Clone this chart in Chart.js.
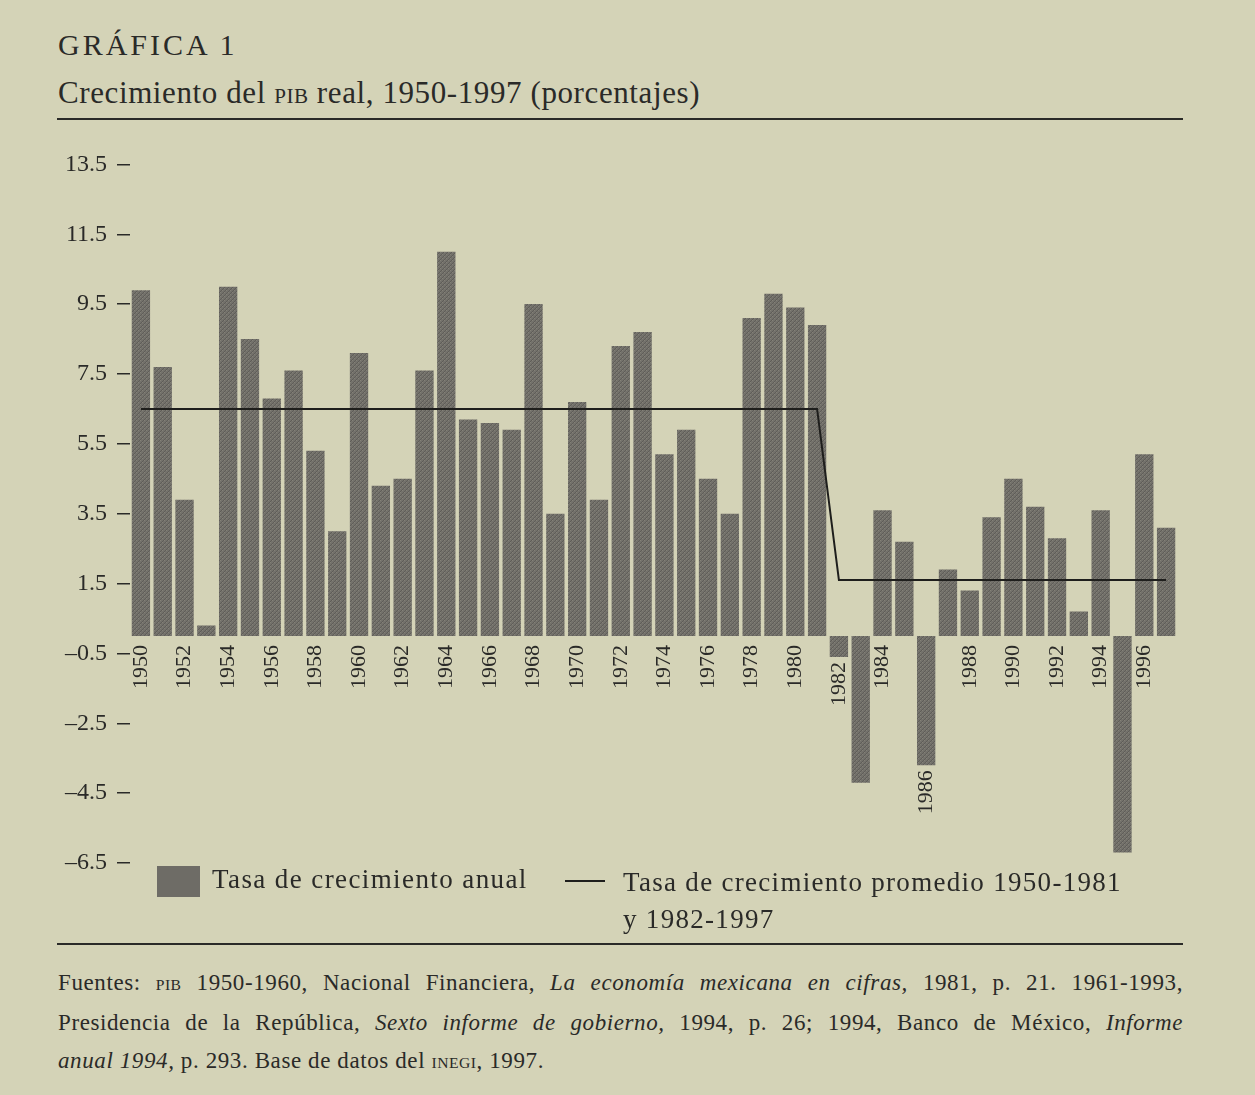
<!DOCTYPE html>
<html lang="es">
<head>
<meta charset="utf-8">
<script src="https://cdn.jsdelivr.net/npm/chart.js@4.4.1/dist/chart.umd.min.js"></script>
<style>
  html, body { margin:0; padding:0; }
  body { width:1255px; height:1095px; background:#d4d3b7; position:relative; overflow:hidden;
         font-family:"Liberation Serif", "DejaVu Serif", serif; color:#2a2a28; }
  .abs { position:absolute; white-space:nowrap; }
  #title { left:58px; top:28px; font-size:30px; letter-spacing:3px; }
  #subtitle { left:58px; top:75px; font-size:31px; letter-spacing:0.6px; }
  .sc { font-size:0.68em; letter-spacing:0.5px; }
  .rule { position:absolute; left:57px; width:1126px; height:2px; background:#2a2a28; }
  #chartBox { position:absolute; left:0; top:140px; width:1255px; height:760px; }
  #legSwatch { left:157px; top:866px; width:43px; height:31px; background:#6e6c66; }
  #legText1 { left:212px; top:864px; font-size:27px; letter-spacing:1.4px; }
  #legLine { left:565px; top:880px; width:40px; height:2px; background:#1e1e1c; }
  #legText2 { left:623px; top:864px; font-size:27px; line-height:37px; letter-spacing:1.3px; }
  #foot { position:absolute; left:58px; top:964px; width:1125px; font-size:23px; line-height:38px; letter-spacing:0.6px; }
  #foot div { text-align:justify; text-align-last:justify; white-space:nowrap; }
  #foot div.last { text-align-last:left; }
</style>
</head>
<body>
<div id="title" class="abs">GRÁFICA 1</div>
<div id="subtitle" class="abs">Crecimiento del <span class="sc">PIB</span> real, 1950-1997 (porcentajes)</div>
<div class="rule" style="top:118px"></div>

<div id="chartBox"><canvas id="c"></canvas></div>

<div id="legSwatch" class="abs"></div>
<div id="legText1" class="abs">Tasa de crecimiento anual</div>
<div id="legLine" class="abs"></div>
<div id="legText2" class="abs">Tasa de crecimiento promedio 1950-1981<br>y 1982-1997</div>

<div class="rule" style="top:943px"></div>
<div id="foot">
  <div>Fuentes: <span class="sc">PIB</span> 1950-1960, Nacional Financiera, <i>La economía mexicana en cifras,</i> 1981, p. 21. 1961-1993,</div>
  <div>Presidencia de la República, <i>Sexto informe de gobierno,</i> 1994, p. 26; 1994, Banco de México, <i>Informe</i></div>
  <div class="last"><i>anual 1994,</i> p. 293. Base de datos del <span class="sc">INEGI</span>, 1997.</div>
</div>

<script>
// ---- data ----
const years = ['1950','1951','1952','1953','1954','1955','1956','1957','1958','1959',
               '1960','1961','1962','1963','1964','1965','1966','1967','1968','1969',
               '1970','1971','1972','1973','1974','1975','1976','1977','1978','1979',
               '1980','1981','1982','1983','1984','1985','1986','1987','1988','1989',
               '1990','1991','1992','1993','1994','1995','1996','1997'];
const growth = [9.9, 7.7, 3.9, 0.3, 10.0, 8.5, 6.8, 7.6, 5.3, 3.0,
                8.1, 4.3, 4.5, 7.6, 11.0, 6.2, 6.1, 5.9, 9.5, 3.5,
                6.7, 3.9, 8.3, 8.7, 5.2, 5.9, 4.5, 3.5, 9.1, 9.8,
                9.4, 8.9, -0.6, -4.2, 3.6, 2.7, -3.7, 1.9, 1.3, 3.4,
                4.5, 3.7, 2.8, 0.7, 3.6, -6.2, 5.2, 3.1];
const periodStart = [1950, 1982];
const periodEnd   = [1981, 1997];
const periodMean  = [6.5, 1.6];
const yTickValues = [-6.5, -4.5, -2.5, -0.5, 1.5, 3.5, 5.5, 7.5, 9.5, 11.5, 13.5];
const barLabel  = 'Tasa de crecimiento anual';
const lineLabel = 'Tasa de crecimiento promedio 1950-1981 y 1982-1997';

// average line built from the two period means
const averageLine = years.map(y => {
  const yr = Number(y);
  for (let k = 0; k < periodStart.length; k++) {
    if (yr >= periodStart[k] && yr <= periodEnd[k]) return periodMean[k];
  }
  return null;
});

// ---- style ----
const FONT = '"Liberation Serif", "DejaVu Serif", serif';
const INK = '#2a2a28';

function barPattern() {
  const p = document.createElement('canvas');
  p.width = 4; p.height = 4;
  const g = p.getContext('2d');
  g.fillStyle = '#73716b'; g.fillRect(0, 0, 4, 4);
  g.fillStyle = '#5f5d58';
  for (let i = 0; i < 4; i++) g.fillRect(i, (3 - i), 1, 1);
  g.fillStyle = '#838177';
  g.fillRect(0, 0, 1, 1); g.fillRect(2, 2, 1, 1);
  return g.createPattern(p, 'repeat');
}

const fmt = v => (v < 0 ? '\u2013' : '') + Math.abs(v).toFixed(1);

// labels of even years whose bar goes below zero are placed under the bar
const lowLabels = {
  id: 'lowLabels',
  afterDatasetsDraw(chart) {
    const xs = chart.scales.x, ys = chart.scales.y, ctx = chart.ctx;
    ctx.save();
    ctx.font = '22px ' + FONT;
    ctx.fillStyle = INK;
    ctx.textAlign = 'right';
    ctx.textBaseline = 'middle';
    growth.forEach((v, i) => {
      if (i % 2 === 0 && v < 0) {
        const px = xs.getPixelForValue(i);
        const py = ys.getPixelForValue(v) + 5;
        ctx.save();
        ctx.translate(px, py);
        ctx.rotate(-Math.PI / 2);
        ctx.fillText(years[i], 0, 0);
        ctx.restore();
      }
    });
    ctx.restore();
  }
};

new Chart(document.getElementById('c'), {
  data: {
    labels: years,
    datasets: [
      {
        type: 'line', label: lineLabel, data: averageLine,
        borderColor: '#1e1e1c', borderWidth: 2, pointRadius: 0, tension: 0,
        fill: false, order: 0
      },
      {
        type: 'bar', label: barLabel, data: growth,
        backgroundColor: barPattern(), borderWidth: 0,
        barPercentage: 0.84, categoryPercentage: 1.0, order: 1
      }
    ]
  },
  options: {
    responsive: true,
    maintainAspectRatio: false,
    animation: false,
    layout: { padding: { left: 50, right: 78, top: 23, bottom: 37 } },
    plugins: { legend: { display: false }, tooltip: { enabled: false } },
    scales: {
      x: {
        position: { y: 0 },
        offset: true,
        grid: { display: false, drawTicks: false },
        border: { display: false },
        ticks: {
          autoSkip: false, maxRotation: 90, minRotation: 90, padding: 9,
          color: INK, font: { family: FONT, size: 22 },
          callback: (val, i) => (i % 2 === 0 && growth[i] >= 0) ? years[i] : ''
        }
      },
      y: {
        min: -6.5, max: 13.5,
        afterBuildTicks: s => { s.ticks = yTickValues.map(v => ({ value: v })); },
        afterFit: s => { s.width = 80; },
        grid: { drawOnChartArea: false, drawTicks: true, tickLength: 13, tickColor: INK, lineWidth: 1.5 },
        border: { display: false },
        ticks: {
          padding: 10, color: INK, font: { family: FONT, size: 24 },
          callback: v => fmt(v)
        }
      }
    }
  },
  plugins: [lowLabels]
});
</script>
</body>
</html>
